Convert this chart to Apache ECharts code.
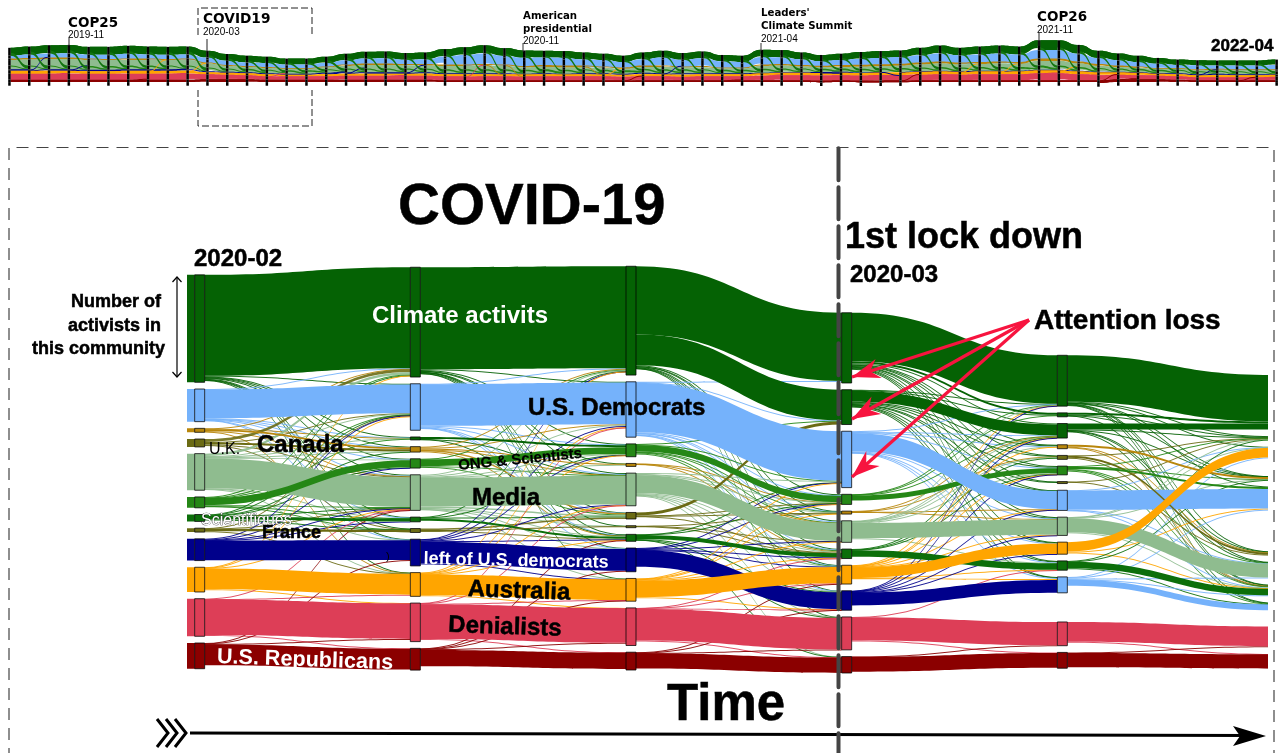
<!DOCTYPE html>
<html><head><meta charset="utf-8">
<style>html,body{margin:0;padding:0;background:#fff}#c{width:1279px;height:753px}</style>
<script src="https://cdn.jsdelivr.net/npm/echarts@6/dist/echarts.min.js"></script>
</head><body><div id="c"></div>
<script>
// ---------- main alluvial: community sizes per time step, top to bottom ('_' = people not in any community shown)
const step0Ids   = ['_','c','b','g','u','m','o','s','f','n','a','r','d'];
const step0Sizes = [79,108.6,33,4,8,37,11,7,4,22,25,38,26];
const step1Ids   = ['_','c','b','e','g','o','m','s','f','n','a','r','d'];
const step1Sizes = [71.3,111,47,3,5,9,36,4,4,27,24,39,22];
const step2Ids   = ['_','c','b','o','g','m','u','f','s','n','a','r','d'];
const step2Sizes = [70.3,110,56,13,3,32,6,2,7,24,23,38,18];
const step3Ids   = ['_','c','h','b','o','g','m','s','a','n','r','d'];
const step3Sizes = [117.3,71,35,57,8,3,21,8,18,19,33,16];
const step4Ids   = ['_','c','e','h','g','u','o','f','b','m','a','s','l','_2','r','d'];
const step4Sizes = [160.3,51,4,13,4,4,7,2,20,17,12,8,16,15.9,24,16];
const step5Ids   = ['_','c','e','a','_2','u','b','_3','s','m','h','l','_4','r','d'];
const step5Sizes = [180.3,55,3,12,4.2,3,24,27.9,3,15,10,8,2.5,21,15];

const thickFlows0 = [['c','c',102],['b','b',29],['g','g',2],['u','g',2],['m','m',30],['s','s',3],['f','f',2.5],['n','n',20],['a','a',21],['r','r',36],['d','d',21],['o','o',7]];
const thinFlows0 = [['c','b',.7],['c','g',.4],['c','o',.5],['c','m',.8],['c','s',.5],['c','e',.6],['c','f',.4],['c','a',.3],['c','n',.4],
 ['b','c',.5],['b','e',.5],['b','g',.3],['b','m',.7],['b','o',.4],['b','n',.3],['b','s',.3],['g','c',.5],['g','m',.4],['g','e',.3],['g','a',.3],
 ['u','c',3],['u','b',.5],['u','m',.6],['u','f',.4],['m','c',2.5],['m','b',.8],['m','e',.4],['m','o',.7],['m','g',.5],['m','s',.4],['m','n',.4],['m','a',.3],
 ['o','c',.6],['o','b',.4],['o','m',.9],['o','e',.3],['o','f',.3],['o','s',.3],['s','b',.5],['s','c',.4],['s','o',.5],['s','m',.4],['s','f',.3],['s','g',.3],
 ['f','b',.3],['f','m',.4],['f','a',.4],['n','b',.6],['n','m',.5],['n','s',.3],['n','o',.3],['a','b',.5],['a','m',.5],['a','r',.3],['a','c',.3],
 ['r','a',.5],['r','m',.3],['r','d',.4],['d','n',.5],['d','m',.4],['d','r',.5]];
const thickFlows1 = [['c','c',103],['b','b',42],['e','o',2],['g','g',1],['m','m',29],['s','s',2],['f','f',1],['n','n',22],['a','a',21],['r','r',35],['d','d',16.5],['o','o',7]];
const thinFlows1 = [['c','b',.8],['c','o',.7],['c','g',.3],['c','m',.8],['c','s',.7],['c','u',.3],['c','n',.3],['c','a',.3],['c','f',.2],
 ['b','c',.5],['b','o',.6],['b','m',.8],['b','u',.3],['b','s',.4],['b','n',.3],['e','m',.3],['e','s',.3],['g','c',1],['g','b',.8],['g','u',1.5],['g','m',.3],['g','s',.3],
 ['o','u',.5],['o','m',.5],['o','c',.5],['m','c',1],['m','b',1],['m','o',.6],['m','g',.4],['m','u',1.5],['m','s',.7],['m','f',.3],['m','a',.3],['m','n',.3],
 ['s','u',1],['s','c',.3],['s','o',.3],['f','u',1.5],['f','s',.8],['n','b',1],['n','m',.5],['n','s',.5],['n','o',.3],['n','c',.2],['n','a',.3],
 ['a','b',.6],['a','c',.5],['a','m',.3],['a','o',.3],['a','s',.3],['a','r',.3],['r','a',.5],['r','b',.3],['r','m',.5],['r','d',.4],
 ['d','n',.3],['d','a',.3],['d','r',.7],['d','s',.3]];
const thickFlows2 = [['c','c',69],['c','h',31],['u','h',3],['m','m',18],['s','s',4],['d','d',15.5],['r','r',32],['n','n',17],['a','a',16.5],['o','o',6.5],['b','b',50]];
const thinFlows2 = [['c','o',.8],['c','g',.3],['c','m',.7],['c','s',.6],['c','a',.4],['c','n',.3],['c','r',.3],
 ['b','c',.5],['b','h',.5],['b','o',.7],['b','g',.3],['b','m',1],['b','s',.6],['b','a',.3],['b','n',.2],
 ['o','h',.7],['o','b',.5],['o','g',.5],['o','m',.5],['o','s',1],['o','a',.3],['g','o',.3],['g','m',.3],['g','s',.3],
 ['m','b',1],['m','o',.5],['m','g',.5],['m','s',1],['m','a',.5],['m','n',.7],['m','r',.3],['m','d',.3],
 ['u','s',.5],['u','o',.3],['u','g',.5],['f','m',.3],['f','s',.3],['f','g',.3],['s','b',.3],['s','o',.4],['s','n',.5],['s','d',.4],['s','r',.3],
 ['n','b',.5],['n','m',.5],['n','o',.3],['n','s',.4],['n','a',.3],['a','b',.4],['a','g',.5],['a','s',.6],['a','m',.5],['a','o',.4],['a','n',.3],
 ['r','a',.3],['r','n',.4],['r','s',.3],['r','d',.4],['d','a',.4],['d','n',.3],['d','r',.4]];
const thickFlows3 = [['c','c',49],['c','e',2],['h','h',11],['o','o',5],['m','m',15.5],['s','s',6.5],['n','l',13],['r','r',23.5],['d','d',15],['b','b',18.5],['a','a',10.5]];
const thinFlows3 = [['c','h',1],['c','g',.6],['c','u',.5],['c','o',.8],['c','f',.4],['c','b',.4],['c','m',.7],['c','a',.5],['c','s',.7],['c','l',.5],
 ['h','e',.5],['h','c',.6],['h','g',.7],['h','u',.6],['h','o',1],['h','f',.3],['h','b',.4],['h','m',.6],['h','a',.6],['h','s',.8],['h','l',.6],
 ['b','c',.5],['b','h',.5],['b','g',.3],['b','o',.5],['b','m',.7],['b','a',.3],['b','s',.5],['b','l',1],['o','c',.3],['o','h',.5],['o','e',.5],
 ['g','h',.3],['g','u',.5],['g','b',.2],['g','m',.4],['m','c',.3],['m','h',.4],['m','g',.4],['m','u',.7],['m','o',.4],['m','s',.4],['s','o',.5],['s','h',.4],['s','u',.3],
 ['a','c',.4],['a','h',.4],['a','g',.5],['a','o',.4],['a','b',.3],['a','s',.3],['a','m',.3],['a','l',1],['n','c',.3],['n','h',.2],['n','o',.3],['n','b',.5],['n','m',.3],['n','a',.3],
 ['r','d',.5],['r','s',.2],['d','r',.3]];
const thickFlows4 = [['c','c',47],['e','c',2],['h','c',6],['b','b',19.5],['m','m',14],['l','l',6],['r','r',20],['d','d',14.5],['u','s',2],['g','u',2],['s','h',6.5],['o','b',2],['a','a',9.5]];
const thinFlows4 = [['c','h',.5],['c','m',.5],['c','s',.5],['c','u',.4],['c','e',.6],['c','l',.5],['c','b',.5],['c','a',.3],['e','e',.4],['e','u',.3],['e','h',.5],
 ['h','e',.6],['h','m',.5],['h','s',.5],['h','l',.5],['h','u',.3],['g','s',.5],['g','h',.3],['u','h',.5],['u','e',.3],['o','h',1],['o','m',.5],['o','e',.7],['o','u',.3],['o','l',.4],
 ['f','s',.4],['f','e',.3],['b','a',.3],['b','m',.3],['b','h',.3],['m','a',.5],['m','e',.4],['m','u',.3],['m','h',.3],['a','b',1],['a','h',.7],
 ['s','l',.4],['s','e',.5],['s','u',.3],['l','a',.8],['l','m',.5],['l','b',1],['l','h',.7],['r','d',.4],['d','r',.6]];

const communityColors = {c:'#056204',h:'#056204',e:'#056204',b:'#75b2fb',l:'#75b2fb',g:'#b8860b',u:'#6b6b14',f:'#6b6b14',m:'#8fbc8f',o:'#258716',s:'#0c6f0a',n:'#00008b',a:'#ffa500',r:'#dd3e57',d:'#8b0000'};

// ---------- strip at the top: one value per fortnight, 2019-08 .. 2022-04
const miniTotal = [35,36.3,37.7,38,36,36,37,36.3,36,36.3,32,28.7,27,26,24,24,26,29,31,31.3,29.7,30.3,33.7,35.7,37.7,34.7,32.3,32,31.7,30.3,29,27,30.3,32,29.7,31.3,27.7,27,33,32.7,30.3,27.7,29,30.7,31.7,32.3,35,37.3,35,36.3,37.3,36.3,42.7,42.7,38,32,29.3,27,24.7,23,22.3,22,22,22,23];
const miniClimate = [8,8,8.5,8.5,8,8,8,8,8,8,7,7,7,6.5,6,6,6.5,7,7,7,7,7,7.5,8,8.5,8,7.5,7,7,7,6.5,6.5,7,7,7,7,6.5,6.5,7.5,7.5,7,6.5,6.5,7,7,7,7.5,8,7.5,8,8,8,10,10,9,7.5,7,6.5,6,5.5,5,5,5,5,5.5];
const miniDemocrats = [3,3,3.5,4,4,4,4.5,4,4,4,3,3,3,3,2.5,3,3.5,4,4.5,4.5,4,4,6,8,9,7,6,6,6,5.5,5,4.5,5.5,6,5,6,4.5,4,6,6,5,4.5,5,6,6.5,6.5,7,8,7,7,7.5,7,8,8,7,6,5,4.5,4,3,3,3,3,3,3.5];
const miniCanada = [1.5,1.5,1.5,1.5,1.5,1,1.5,1.5,1,1.5,1,1,1,1,1,1,1,1.5,1.5,1.5,1.5,1.5,1.5,1.5,1.5,1.5,1.5,2,2,2,1.5,1.5,1.5,1.5,1,1.5,1,1,1.5,1.5,1.5,1.5,2,2,2,2,2,2,2,2,2,2,2.5,2.5,2,2,1.5,1.5,1,1,1,1,1,1,1];
const miniMedia = [5.5,6,6.5,6.5,6,6,5.5,5.5,5.5,5.5,4,2.5,2,2,1.5,1.5,2,2.5,3.5,3.5,3,3,3.5,3.5,4,3.5,2.5,2.5,2.5,2,2,1.5,2,2.5,2,2,1.5,1.5,3,3,2,1.5,1.5,2,2,2.5,3,3.5,3,3,3.5,3,4.5,4.5,3.5,2,1.5,1,1,1,1,1,1,1,1];
const miniOng = [4,4,4,4,4,4,4,4,4,4,4,3.5,3.5,3.5,3.5,3.5,3.5,4,4,4,4,4,4,4,4,4,4,4,4,4,3.5,3.5,4,4,4,4,3.5,3.5,4,4,4,3.5,3.5,4,4,4,4,4,4,4,4,4,4.5,4.5,4,4,3.5,3.5,3.5,3.5,3,3,3,3,3];
const miniLeft = [1.5,1.5,1.5,1.5,1.5,1.5,1.5,1.5,1.5,1.5,1,1,1,1,1,1,1.5,1.5,1.5,1.5,1.5,1.5,1,1,1,1,.5,1,.5,1,1,1,1.5,1,1.5,1,1,1,.5,.5,.5,1,1,.5,.5,.5,.5,.5,.5,.5,.5,.5,.5,.5,.5,.5,.5,.5,.5,1,1,1.5,1,1,.5];
const miniAustralia = [3,3,3,3,2.5,2.5,3,3,3,3,2,2,2,2,1.5,1.5,2,2,2,2,2,2,2,2,2,2,2,2,2,2,2,2,2,2,2,2,2,2,2.5,2.5,2.5,2.5,2.5,2.5,2.5,2.5,3,3,3,3,3,3,3,3,3,3,2.5,2.5,2,2,2,2,2,2,2];
const miniDenial = [6,6,6,6,6,6,6,6,6,6,5,4.5,4,3.5,3.5,3.5,3.5,4,4,4,4,4,4,4,4,4,4,4,4,4,4,3.5,4,4,3.5,4,4,4,4.5,5,5,5,5,5,5.5,5.5,5.5,6,5.5,6,6,6,7,7,6,5,4.5,4,3.5,3.5,3,3,3,3,3.5];
const miniRepublic = [2.5,2.5,2.5,2.5,2.5,2.5,2.5,2.5,2.5,2.5,3,3,3,2.5,2.5,2.5,2.5,2.5,2.5,2.5,2.5,2.5,2,2,2,2,2,2,2,2,2,2,2,2,2,2,2,2,2,2,2,2,2,2,2,2,2,2,2,2,2,2,2,2,2,3,3,3,3,2.5,2,2,2,2,2];
const miniGreenFlow = [3,3,3,3,2.5,2.5,2.5,2.5,2.5,3,2.5,2.5,2,2,2,2,2.5,2.5,2.5,2.5,2.5,2.5,2.5,2.5,2.5,2.5,2.5,2,2.5,2.5,2,2,2.5,2.5,2.5,2.5,2,2.5,2.5,2.5,2.5,2,2,2.5,2.5,2.5,2.5,2.5,2.5,2.5,2.5,2.5,2.5,2.5,2.5,2.5,2,2,2,2,2,2,2,2];
const miniCross = [[1,'n','b',1],[2,'r','a',.8],[3,'n','m',.8],[6,'d','r',1],[7,'a','g',.7],[8,'r','a',.7],[8,'n','o',.7],[9,'a','g',.7],[13,'r','o',.8],[16,'n','o',.8],[17,'n','m',.7],[19,'r','a',.7],[20,'n','g',.7],[23,'r','g',.8],[24,'g','a',.7],[25,'g','r',.7],[29,'g','a',.8],[30,'a','g',.8],[31,'d','a',.7],[33,'n','b',.7],[36,'d','r',.7],[38,'r','a',.8],[41,'n','a',.5],[44,'n','r',.5],[45,'d','a',.7],[47,'r','a',.6],[48,'a','g',.7],[50,'a','g',.7],[52,'r','a',.7],[53,'a','m',.8],[54,'r','a',.8],[55,'d','a',.8],[56,'d','r',.8],[57,'r','a',.6],[60,'n','g',.5],[62,'d','a',.5]];

const riverGap = 6.7, stripBandIds = ['c','x','b','g','m','o','n','a','r','d'];
const steps = [[step0Ids,step0Sizes],[step0Ids,step0Sizes],[step1Ids,step1Sizes],[step2Ids,step2Sizes],[step3Ids,step3Sizes],[step4Ids,step4Sizes],[step5Ids,step5Sizes]];

// build main sankey
const mainNodes = [], mainLinks = [];
steps.forEach((st, depth) => st[0].forEach((id, i) => {
  const spacer = id[0] === '_', edge = depth === 0 || depth === 6;
  mainNodes.push({name: depth + '|' + id, depth, value: st[1][i],
    itemStyle: spacer || edge ? {color:'rgba(0,0,0,0)', borderWidth:0}
      : {color: communityColors[id], borderColor:'rgba(0,0,0,.75)', borderWidth:1}});
}));
const addFlows = (d, list, op) => list.forEach(([s,t,v]) => mainLinks.push({source:d+'|'+s, target:(d+1)+'|'+t, value:v,
   lineStyle:{color:communityColors[s], opacity:op}}));
[[thinFlows0,thickFlows0],[thinFlows1,thickFlows1],[thinFlows2,thickFlows2],[thinFlows3,thickFlows3],[thinFlows4,thickFlows4]].forEach((pair,i)=>{
  addFlows(i+1, pair[0], .9); addFlows(i+1, pair[1], 1);
});
const entry = [];
step0Ids.forEach((id,i)=>{ if(id[0] !== '_') entry.push([id,id,step0Sizes[i]]); });
addFlows(0, entry, 1);
const riverHeight = Math.max(...steps.map(st => st[1].reduce((a,b)=>a+b,0) + (st[1].length-1)*riverGap));

// build strip sankey: a broad colour bed of grouped communities, with the individual flows on top
const stripBase = 3.7, stripHead = 44;
const stripNodes = [], stripLinks = [], bedNodes = [], bedLinks = [];
const stripBands = {c:miniClimate,b:miniDemocrats,g:miniCanada,m:miniMedia,o:miniOng,n:miniLeft,a:miniAustralia,r:miniDenial,d:miniRepublic};
const bedSize = t => {
  const sum = Object.values(stripBands).reduce((s,a)=>s+a[t],0), rest = Math.max(0,miniTotal[t]-sum);
  return {c:miniClimate[t], b:rest+miniDemocrats[t]+miniCanada[t], m:miniMedia[t]+miniOng[t]+miniLeft[t], a:miniAustralia[t], r:miniDenial[t], d:miniRepublic[t]};
};
const clear = {color:'rgba(0,0,0,0)',borderWidth:0};
miniTotal.forEach((tot,t)=>{
  const sum = Object.values(stripBands).reduce((s,a)=>s+a[t],0);
  stripNodes.push({name:'S'+t+'|top',depth:t,value:stripHead-tot,itemStyle:clear});
  stripBandIds.forEach(id=>{
    const v = id==='x' ? Math.max(0,tot-sum) : stripBands[id][t];
    stripNodes.push({name:'S'+t+'|'+id,depth:t,value:v,itemStyle:{color:'#000',borderWidth:0}});
  });
  stripNodes.push({name:'S'+t+'|base',depth:t,value:stripBase,itemStyle:{color:'#000',borderWidth:0}});
  bedNodes.push({name:'B'+t+'|top',depth:t,value:stripHead-tot,itemStyle:clear});
  Object.entries(bedSize(t)).forEach(([id,v])=>bedNodes.push({name:'B'+t+'|'+id,depth:t,value:v,itemStyle:clear}));
  bedNodes.push({name:'B'+t+'|base',depth:t,value:stripBase,itemStyle:clear});
});
for(let t=0;t<miniTotal.length-1;t++){
  const here = bedSize(t), next = bedSize(t+1);
  Object.keys(here).forEach(id=>bedLinks.push({source:'B'+t+'|'+id,target:'B'+(t+1)+'|'+id,value:Math.min(here[id],next[id])+.0,lineStyle:{color:communityColors[id],opacity:1}}));
  const cross = miniCross.filter(x=>x[0]===t).map(x=>[x[1],x[2],x[3]]);
  cross.push(['c','o',miniGreenFlow[t]]);
  const outOf = id=>cross.filter(x=>x[0]===id).reduce((s,x)=>s+x[2],0);
  const into  = id=>cross.filter(x=>x[1]===id).reduce((s,x)=>s+x[2],0);
  Object.keys(stripBands).forEach(id=>{
    const v = Math.min(stripBands[id][t]-outOf(id), stripBands[id][t+1]-into(id));
    if(v>0) stripLinks.push({source:'S'+t+'|'+id,target:'S'+(t+1)+'|'+id,value:v,lineStyle:{color:communityColors[id],opacity:1}});
  });
  cross.forEach(x=>stripLinks.push({source:'S'+t+'|'+x[0],target:'S'+(t+1)+'|'+x[1],value:x[2],lineStyle:{color:x[0]==='c'?'#137510':communityColors[x[0]],opacity:1}}));
}

// ---------- annotations
const F = '"Liberation Sans",Arial,sans-serif', D = '"DejaVu Sans",sans-serif';
const txt = (text,x,y,size,o={}) => ({type:'text',z:40,x,y:y+size*.05,rotation:o.rot||0,silent:true,
  style:{text,x:0,y:0,fill:o.fill||'#000',font:`${o.weight||'bold'} ${size}px ${o.family||F}`,textAlign:o.align||'left',textVerticalAlign:'middle',
    stroke:o.stroke||(o.weight||o.family||o.fill?undefined:'#000'),lineWidth:o.lw||(size>=17?.5:.2)}});
const seg = (pts,o={}) => ({type:'polyline',z:o.z||35,silent:true,shape:{points:pts},
  style:{stroke:o.color||'#000',lineWidth:o.w||1,lineDash:o.dash,fill:null,lineCap:o.cap||'butt'}});
const head = (from,to,len,half,color) => { // barbed arrow head
  const a=Math.atan2(to[1]-from[1],to[0]-from[0]),c=Math.cos(a),s=Math.sin(a);
  return {type:'polygon',z:36,silent:true,shape:{points:[to,[to[0]-len*c+half*s,to[1]-len*s-half*c],[to[0]-.68*len*c,to[1]-.68*len*s],[to[0]-len*c-half*s,to[1]-len*s+half*c]]},style:{fill:color}};
};
const red='#f7143f', A=[1029,320], tips=[[852,377],[852,419],[852,477]];
const graphics = [
  {type:'rect',z:30,silent:true,shape:{x:0,y:255,width:187,height:430},style:{fill:'#fff'}},
  {type:'rect',z:30,silent:true,shape:{x:1268,y:255,width:11,height:430},style:{fill:'#fff'}},
  seg([[9,760],[9,147.5],[1274,147.5],[1274,760]],{color:'#444',w:1.2,dash:[12,8]}),
  seg([[198,35],[198,8],[312,8],[312,35]],{color:'#222',w:1,dash:[7,3]}),
  seg([[198,90],[198,126],[312,126],[312,90]],{color:'#222',w:1,dash:[7,3]}),
  seg([[838.5,148.3],[838.5,753]],{color:'#444',w:4,dash:[32,7],cap:'round',z:37}),
  seg([[69,38],[69,46]],{color:'#222'}),seg([[207,39],[207,52]],{color:'#222'}),seg([[523,43],[523,52]],{color:'#333'}),seg([[761,43],[761,51]],{color:'#333'}),seg([[1039,33],[1039,46]],{color:'#222'}),
  seg([[177,277],[177,377]],{w:1.2}),seg([[172.5,282],[177,277],[181.5,282]],{w:1.2}),seg([[172.5,372],[177,377],[181.5,372]],{w:1.2}),
  ...tips.flatMap(t=>[seg([A,t],{color:red,w:3.2,z:36}),head(A,t,28,10,red)]),
  seg([[190,733],[1250,735.5]],{w:3}),
  {type:'polygon',z:36,silent:true,shape:{points:[[1266,736],[1233,726],[1240,736],[1233,746]]},style:{fill:'#000'}},
  seg([[157,719],[168,733],[157,747]],{w:3}),seg([[166,719],[177,733],[166,747]],{w:3}),seg([[175,719],[186,733],[175,747]],{w:3}),
  txt('COVID-19',398,205,58),txt('1st lock down',845,236,36),txt('2020-03',850,274,24),txt('2020-02',194,258,24),
  txt('Attention loss',1034,320,28),txt('Time',667,703,51),
  txt('Number of',161,301,18,{align:'right'}),txt('activists in',161,325,18,{align:'right'}),txt('this community',165,348,18,{align:'right'}),
  txt('Climate activits',372,315,24,{fill:'#fff'}),txt('U.S. Democrats',528,407,24),txt('Canada',257,444,24),txt('U.K.',209,449,16,{weight:'normal'}),
  txt('ONG & Scientists',520,459,15,{align:'center',rot:.1}),txt('Media',472,497,24),
  txt('Scientifiques',201,520,16,{weight:'normal',fill:'#fff',stroke:'#222',lw:.6}),txt('France',262,532,18),txt(')',386,556,11,{weight:'normal'}),
  txt('left of U.S. democrats',516,560,18,{align:'center',fill:'#fff',rot:-.02}),txt('Australia',519,590,24,{align:'center',rot:-.035}),
  txt('Denialists',505,626,24,{align:'center',rot:-.035}),txt('U.S. Republicans',305,659,21.6,{align:'center',fill:'#fff',rot:-.035}),
  txt('COP25',68,23,13.5,{family:D}),txt('2019-11',68,35,10,{weight:'normal'}),
  txt('COVID19',203,19,13.7,{family:D}),txt('2020-03',203,32,10,{weight:'normal'}),
  txt('American',523,16,10.2,{family:D}),txt('presidential',523,29,10.2,{family:D}),txt('2020-11',523,41,10,{weight:'normal'}),
  txt('Leaders\'',761,13,10.2,{family:D}),txt('Climate Summit',761,26,10.2,{family:D}),txt('2021-04',761,39,10,{weight:'normal'}),
  txt('COP26',1037,17,13.5,{family:D}),txt('2021-11',1037,30,10,{weight:'normal'}),
  txt('2022-04',1211,45,17)
];

const common = {type:'sankey',orient:'horizontal',nodeAlign:'left',layoutIterations:0,draggable:false,silent:true,
  label:{show:false},emphasis:{disabled:true},animation:false};
const stripBox = {left:8.2,top:39,width:1269.7,height:stripHead+stripBase,nodeWidth:2.5,nodeGap:0};
const chart = echarts.init(document.getElementById('c'),null,{renderer:'canvas'});
chart.setOption({
  animation:false,backgroundColor:'#fff',
  graphic:{elements:graphics},
  series:[
    {...common,name:'Communities over time',left:-21,top:190,width:1304,height:riverHeight,nodeWidth:10,nodeGap:riverGap,data:mainNodes,links:mainLinks},
    {...common,...stripBox,name:'Whole period, grouped',data:bedNodes,links:bedLinks},
    {...common,...stripBox,name:'Whole period',data:stripNodes,links:stripLinks}
  ]
});
</script></body></html>
